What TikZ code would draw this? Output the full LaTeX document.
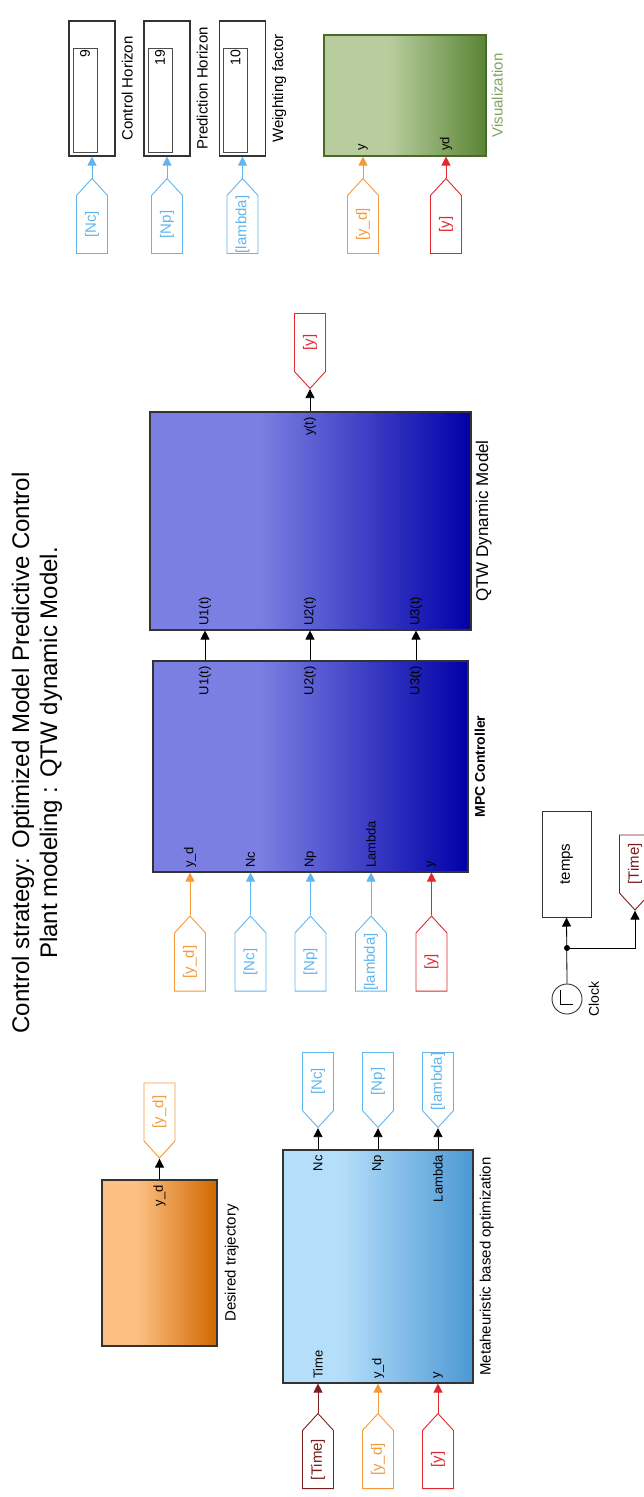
\documentclass[tikz,border=0pt]{standalone}
\usepackage{fontspec}
\setmainfont{Liberation Sans}
\usetikzlibrary{positioning,calc,arrows.meta,shapes.symbols}
\definecolor{ydc}{HTML}{F39A3C}
\definecolor{parc}{HTML}{62B6EE}
\definecolor{yc}{HTML}{E2282E}
\definecolor{timec}{HTML}{7A1E1E}
\definecolor{visc}{HTML}{7FA35E}
\definecolor{mpcA}{HTML}{7B7FE2}
\definecolor{mpcB}{HTML}{0000A8}
\definecolor{metaA}{HTML}{B5DEFB}
\definecolor{metaB}{HTML}{4C98D3}
\definecolor{trajA}{HTML}{FCC082}
\definecolor{trajB}{HTML}{D06800}
\definecolor{visA}{HTML}{B8CD9E}
\definecolor{visB}{HTML}{5A8435}
\pgfdeclarehorizontalshading{mpcshade}{100bp}{color(0bp)=(mpcA); color(42bp)=(mpcA); color(75bp)=(mpcB); color(100bp)=(mpcB)}
\pgfdeclarehorizontalshading{metashade}{100bp}{color(0bp)=(metaA); color(40bp)=(metaA); color(75bp)=(metaB); color(100bp)=(metaB)}
\pgfdeclarehorizontalshading{trajshade}{100bp}{color(0bp)=(trajA); color(40bp)=(trajA); color(75bp)=(trajB); color(100bp)=(trajB)}
\pgfdeclarehorizontalshading{visshade}{100bp}{color(0bp)=(visA); color(45bp)=(visA); color(75bp)=(visB); color(100bp)=(visB)}
\newcommand{\fsz}[1]{\fontsize{#1}{#1}\selectfont}

\begin{document}
\begin{tikzpicture}[x=1pt,y=-1pt,
    blk/.style={draw=black!80, line width=1.1pt, inner sep=0pt},
    port/.style={rotate=90, font=\fsz{13}, inner sep=1pt},
    lbl/.style={rotate=90, font=\fsz{15}, inner sep=0pt},
    tag/.style={signal, draw, fill=white, rotate=90, minimum width=75pt, minimum height=31pt,
                inner sep=0pt, signal pointer angle=85, font=\fsz{15}, line width=0.9pt},
    fromtag/.style={tag, signal to=east},
    gototag/.style={tag, signal to=west},
    wire/.style={line width=0.8pt, -{Triangle[length=9pt,width=9pt]}}]
  \useasboundingbox (0,0) rectangle (643,1497);
  % title
  \node[rotate=90, font=\fontsize{24}{28}\selectfont, align=center] (title) at (37,753)
    {Control strategy: Optimized Model Predictive Control\\Plant modeling : QTW dynamic Model.};
  % parameter displays
  \foreach \k/\x/\v/\t/\s in {nc/92/9/Control Horizon/Nc, np/167/19/Prediction Horizon/Np, lam/242.5/10/Weighting factor/lambda}{
    \node[blk, minimum width=46pt, minimum height=135pt] (c\k) at (\x,88.5) {};
    \node[draw=black!70, line width=0.6pt, minimum width=24pt, minimum height=104pt, inner sep=0pt] (v\k) at (\x-7,100) {};
    \node[rotate=90, font=\fsz{14}, inner sep=0pt, anchor=east] (n\k) at (\x-7,50) {\v};
    \node[lbl, anchor=north] (l\k) at ([xshift=6pt]c\k.east) {\t};
    \node[fromtag, draw=parc, text=parc] (f\k) at (\x,224.5) {[\s]};
    \draw[wire, parc] (f\k.east) -- (f\k.east |- c\k.south);
  }
  % visualization
  \node[blk, draw=visB!80!black, shading=visshade, minimum width=162pt, minimum height=121pt] (vis) at (405,95.5) {};
  \node[lbl, text=visc, anchor=north] (lvis) at ([xshift=5pt]vis.east) {Visualization};
  \node[port, anchor=west] (pvy) at (363,152) {y};
  \node[port, anchor=west] (pvyd) at (446,152) {yd};
  \node[fromtag, draw=ydc, text=ydc] (fvy) at (363,224.5) {[y\_d]};
  \node[fromtag, draw=yc, text=yc] (fvyd) at (446,224.5) {[y]};
  \draw[wire, ydc] (fvy.east) -- (fvy.east |- vis.south);
  \draw[wire, yc] (fvyd.east) -- (fvyd.east |- vis.south);
  % plant
  \node[blk, shading=mpcshade, minimum width=321pt, minimum height=218pt] (qtw) at (310.5,521) {};
  \node[lbl, font=\fsz{17}, anchor=north] (lqtw) at ([xshift=4pt]qtw.east) {QTW Dynamic Model};
  \node[port, anchor=east] (py) at (310,416) {y(t)};
  \node[gototag, draw=yc, text=yc] (gy) at (310,342.5) {[y]};
  \draw[wire] (gy.west |- qtw.north) -- (gy.west);
  % controller
  \node[blk, shading=mpcshade, minimum width=315pt, minimum height=211pt] (mpc) at (310.5,766.5) {};
  \node[lbl, font=\fsz{14}\bfseries, anchor=north] (lmpc) at ([xshift=6pt]mpc.east) {MPC Controller};
  \foreach \x/\i in {205/1, 310/2, 416/3}{
    \node[port, anchor=east] (mo\i) at (\x,665) {U\i(t)};
    \node[port, anchor=west] (qi\i) at (\x,627) {U\i(t)};
    \draw[wire] (mo\i |- mpc.north) -- (mo\i |- qtw.south);
  }
  \foreach \x/\k/\p/\s/\c in {190/a/y\_d/y\_d/ydc, 250.5/b/Nc/Nc/parc, 310.5/c/Np/Np/parc, 371/d/Lambda/lambda/parc, 431.5/e/y/y/yc}{
    \node[port, anchor=west] (mi\k) at (\x,869) {\p};
    \node[fromtag, draw=\c, text=\c] (fm\k) at (\x,962) {[\s]};
    \draw[wire, \c] (fm\k.east) -- (fm\k.east |- mpc.south);
  }
  % clock and time
  \node[draw=black!80, line width=1pt, rotate=90, minimum width=106pt, minimum height=49pt, font=\fsz{15}] (temps) at (566.5,864) {temps};
  \node[draw=black!80, circle, minimum size=30pt, inner sep=0pt, line width=0.9pt] (clk) at (567,999) {};
  \draw[line width=0.8pt] (560,990) -- (560,1004) -- (573,1004);
  \node[lbl, font=\fsz{14}, anchor=north] (lclk) at ([xshift=6pt]clk.east) {Clock};
  \node[gototag, draw=timec, text=timec] (gtime) at (635,864) {[Time]};
  \coordinate (jn) at (567,948);
  \draw[wire] (clk.north) -- (temps.west);
  \draw[wire] (jn) -| (gtime.west);
  \fill (jn) circle (3pt);
  % desired trajectory
  \node[blk, shading=trajshade, minimum width=115pt, minimum height=166pt] (traj) at (159.5,1263) {};
  \node[lbl, anchor=north] (ltraj) at ([xshift=7pt]traj.east) {Desired trajectory};
  \node[port, anchor=east] (pyd) at (159.5,1184) {y\_d};
  \node[gototag, draw=ydc, text=ydc] (gyd) at (159.5,1112) {[y\_d]};
  \draw[wire] (gyd.west |- traj.north) -- (gyd.west);
  % optimization
  \node[blk, shading=metashade, minimum width=190pt, minimum height=233pt] (meta) at (378,1266.5) {};
  \node[lbl, anchor=north] (lmeta) at ([xshift=6pt]meta.east) {Metaheuristic based optimization};
  \foreach \x/\k/\o/\s in {318/a/Nc/Nc, 378/b/Np/Np, 438/c/Lambda/lambda}{
    \node[port, anchor=east] (mo\k) at (\x,1154) {\o};
    \node[gototag, draw=parc, text=parc] (gm\k) at (\x,1081.5) {[\s]};
    \draw[wire] (gm\k.west |- meta.north) -- (gm\k.west);
  }
  \foreach \x/\k/\p/\c in {318/a/Time/timec, 378/b/y\_d/ydc, 438/c/y/yc}{
    \node[port, anchor=west] (ti\k) at (\x,1380) {\p};
    \node[fromtag, draw=\c, text=\c] (ft\k) at (\x,1459.5) {[\p]};
    \draw[wire, \c] (ft\k.east) -- (ft\k.east |- meta.south);
  }
\end{tikzpicture}
\end{document}
